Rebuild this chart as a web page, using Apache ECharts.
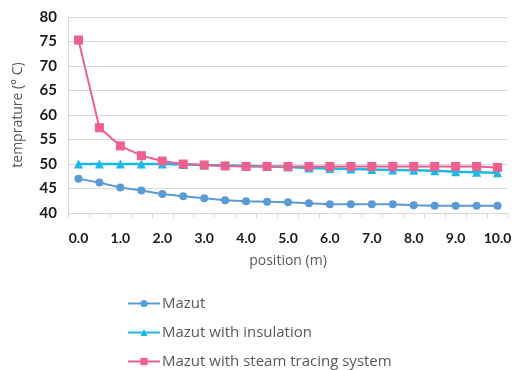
<!DOCTYPE html>
<html>
<head>
<meta charset="utf-8">
<script src="https://cdn.jsdelivr.net/npm/echarts@6/dist/echarts.min.js"></script>
<style>
  html, body { margin: 0; padding: 0; background: #fff; }
  #chart { width: 526px; height: 370px; }
</style>
</head>
<body>
<div id="chart"></div>
<script>
// positions along the pipe (m)
var positions = ['0.0','0.5','1.0','1.5','2.0','2.5','3.0','3.5','4.0','4.5','5.0',
                 '5.5','6.0','6.5','7.0','7.5','8.0','8.5','9.0','9.5','10.0'];
var mazut = [47.0, 46.2, 45.2, 44.6, 43.9, 43.4, 43.0, 42.6, 42.4, 42.3, 42.2,
             42.0, 41.8, 41.8, 41.8, 41.8, 41.6, 41.5, 41.5, 41.5, 41.5];
var mazutInsulation = [50.0, 50.0, 50.0, 50.0, 50.0, 49.9, 49.8, 49.7, 49.6, 49.5, 49.4,
                       49.2, 49.1, 49.0, 48.9, 48.8, 48.7, 48.6, 48.4, 48.3, 48.2];
var mazutSteam = [75.3, 57.4, 53.7, 51.7, 50.6, 50.0, 49.8, 49.6, 49.5, 49.5, 49.5,
                  49.5, 49.5, 49.5, 49.5, 49.5, 49.5, 49.5, 49.5, 49.5, 49.3];
var seriesNames = ['Mazut', 'Mazut with insulation', 'Mazut with steam tracing system'];

var myChart = echarts.init(document.getElementById('chart'));
var font = 'Lato, "Open Sans", sans-serif';
var nameFont = '"Open Sans", Lato, sans-serif';
var option = {
  animation: false,
  textStyle: { fontFamily: font },
  grid: { left: 68, right: 18, top: 17, bottom: 157 },
  legend: {
    orient: 'vertical',
    left: 127,
    top: 296,
    height: 120,
    padding: 0,
    itemWidth: 32,
    itemHeight: 9,
    itemGap: 14,
    textStyle: { color: '#595959', fontSize: 15, fontFamily: nameFont, padding: [0, 0, 0, -3] },
    data: seriesNames
  },
  xAxis: {
    type: 'category',
    data: positions,
    boundaryGap: true,
    name: 'position (m)',
    nameLocation: 'middle',
    nameGap: 41,
    nameTextStyle: { color: '#595959', fontSize: 14, fontFamily: nameFont },
    axisLine: { lineStyle: { color: '#d9d9d9' } },
    axisTick: { show: true, interval: 0, length: 5, lineStyle: { color: '#d9d9d9' } },
    axisLabel: { interval: 1, color: '#1a1a1a', fontSize: 14, fontWeight: 'bold', margin: 18 },
    splitLine: { show: false }
  },
  yAxis: {
    type: 'value',
    min: 40,
    max: 80,
    interval: 5,
    name: 'temprature (° C)',
    nameLocation: 'middle',
    nameGap: 43,
    nameTextStyle: { color: '#595959', fontSize: 14, fontFamily: nameFont },
    axisLine: { show: true, lineStyle: { color: '#d9d9d9' } },
    axisTick: { show: false },
    axisLabel: { color: '#1a1a1a', fontSize: 15, fontWeight: 'bold', margin: 11 },
    splitLine: { lineStyle: { color: '#d9d9d9' } }
  },
  series: [
    {
      name: seriesNames[0],
      type: 'line',
      data: mazut,
      symbol: 'circle',
      symbolSize: 8,
      lineStyle: { width: 2, color: '#5b9bd5' },
      itemStyle: { color: '#5b9bd5' }
    },
    {
      name: seriesNames[1],
      type: 'line',
      data: mazutInsulation,
      symbol: 'triangle',
      symbolSize: 9,
      lineStyle: { width: 2.5, color: '#1cb8e8' },
      itemStyle: { color: '#1cb8e8' }
    },
    {
      name: seriesNames[2],
      type: 'line',
      data: mazutSteam,
      symbol: 'rect',
      symbolSize: 9,
      lineStyle: { width: 2, color: '#ef5f90' },
      itemStyle: { color: '#ef5f90' }
    }
  ]
};
myChart.setOption(option);
</script>
</body>
</html>
